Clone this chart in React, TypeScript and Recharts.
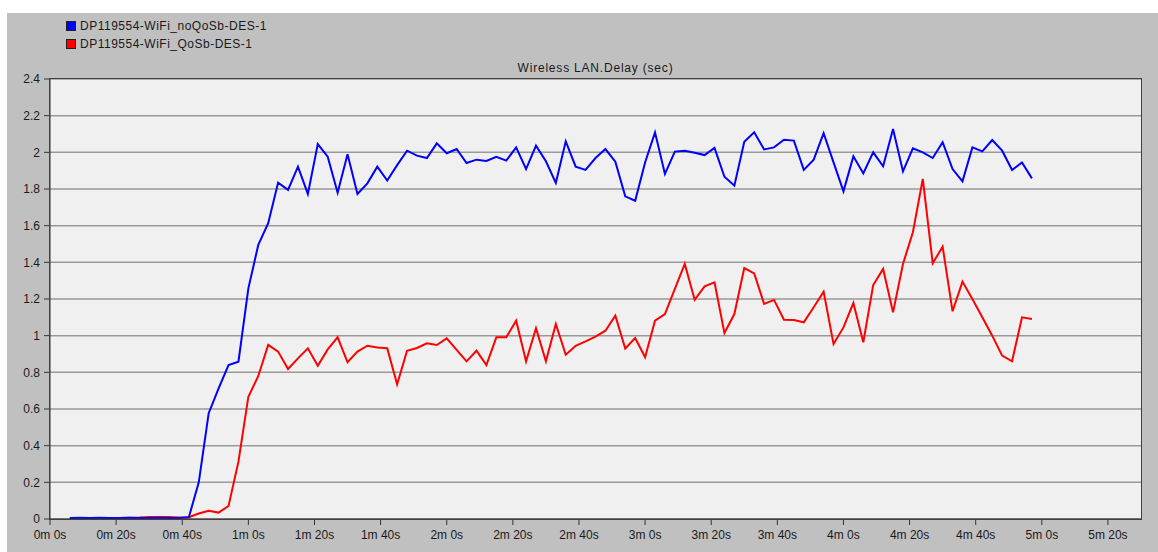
import React from 'react';
import { LineChart, Line, XAxis, YAxis, CartesianGrid } from 'recharts';

const times = [
  6, 9, 12, 15, 18, 21, 24, 27, 30, 33, 36, 39,
  42, 45, 48, 51, 54, 57, 60, 63, 66, 69, 72, 75, 78, 81, 84, 87, 90, 93, 96, 99,
  102, 105, 108, 111, 114, 117, 120, 123, 126, 129, 132, 135, 138, 141, 144, 147,
  150, 153, 156, 159, 162, 165, 168, 171, 174, 177, 180, 183, 186, 189, 192, 195,
  198, 201, 204, 207, 210, 213, 216, 219, 222, 225, 228, 231, 234, 237, 240, 243,
  246, 249, 252, 255, 258, 261, 264, 267, 270, 273, 276, 279, 282, 285, 288, 291,
  294, 297,
];

const noQoSDelay = [
  0.006, 0.007, 0.006, 0.007, 0.006, 0.006, 0.007, 0.006, 0.006, 0.007, 0.006, 0.006,
  0.01, 0.2, 0.577, 0.713, 0.84, 0.858, 1.258, 1.495, 1.613, 1.835, 1.795, 1.922,
  1.773, 2.045, 1.976, 1.78, 1.99, 1.773, 1.831, 1.922, 1.846, 1.93, 2.009, 1.982,
  1.969, 2.049, 1.995, 2.018, 1.942, 1.96, 1.953, 1.976, 1.955, 2.027, 1.909, 2.036,
  1.951, 1.833, 2.06, 1.922, 1.904, 1.969, 2.018, 1.949, 1.76, 1.736, 1.945, 2.109,
  1.882, 2.004, 2.009, 1.998, 1.985, 2.024, 1.867, 1.818, 2.058, 2.109, 2.016, 2.027,
  2.069, 2.064, 1.904, 1.96, 2.104, 1.945, 1.787, 1.978, 1.885, 2.0, 1.924, 2.127,
  1.896, 2.022, 2.0, 1.969, 2.055, 1.909, 1.842, 2.027, 2.005, 2.067, 2.009, 1.904,
  1.945, 1.858,
];

const qosDelay = [
  0.005, 0.006, 0.006, 0.005, 0.006, 0.006, 0.007, 0.008, 0.011, 0.011, 0.011, 0.008,
  0.01, 0.03, 0.045, 0.035, 0.071, 0.313, 0.667, 0.78, 0.95, 0.913, 0.818, 0.876,
  0.931, 0.836, 0.925, 0.991, 0.855, 0.913, 0.945, 0.935, 0.931, 0.735, 0.918, 0.933,
  0.958, 0.949, 0.985, 0.922, 0.86, 0.918, 0.84, 0.991, 0.991, 1.082, 0.86, 1.04,
  0.86, 1.064, 0.896, 0.945, 0.969, 0.995, 1.027, 1.109, 0.93, 0.987, 0.882, 1.082,
  1.118, 1.255, 1.391, 1.196, 1.269, 1.291, 1.015, 1.118, 1.369, 1.34, 1.173, 1.195,
  1.087, 1.085, 1.073, 1.155, 1.24, 0.955, 1.045, 1.178, 0.964, 1.276, 1.364, 1.127,
  1.391, 1.564, 1.855, 1.395, 1.485, 1.133, 1.295, 1.2, 1.1, 1.0, 0.891, 0.86,
  1.1, 1.091,
];

const xTicks = [0, 20, 40, 60, 80, 100, 120, 140, 160, 180, 200, 220, 240, 260, 280, 300, 320];
const xTickLabels = [
  '0m 0s', '0m 20s', '0m 40s', '1m 0s', '1m 20s', '1m 40s', '2m 0s', '2m 20s', '2m 40s',
  '3m 0s', '3m 20s', '3m 40s', '4m 0s', '4m 20s', '4m 40s', '5m 0s', '5m 20s',
];
const yTicks = [0, 0.2, 0.4, 0.6, 0.8, 1, 1.2, 1.4, 1.6, 1.8, 2, 2.2, 2.4];

const seriesNames = ['DP119554-WiFi_noQoSb-DES-1', 'DP119554-WiFi_QoSb-DES-1'];
const seriesColors = ['#0000ff', '#ff0000'];
const chartTitle = 'Wireless LAN.Delay (sec)';

const data = times.map((t, i) => ({ t, noQoS: noQoSDelay[i], qos: qosDelay[i] }));

const FONT = '"Liberation Sans", Arial, sans-serif';

export default function App() {
  const tickStyle = { fontSize: 12, fill: '#1a1a1a', fontFamily: FONT };
  return (
    <div style={{ position: 'absolute', left: 0, top: 0, width: 1158, height: 552, background: '#ffffff', overflow: 'hidden' }}>
      <div style={{ position: 'absolute', left: 7, top: 13, width: 1151, height: 539, background: '#c0c0c0' }} />
      <div style={{ position: 'absolute', left: 0, top: 0 }}>
        <LineChart width={1158} height={552} data={data} margin={{ top: 79, right: 17, bottom: 3, left: 8 }}>
          <CartesianGrid vertical={false} stroke="#999999" strokeWidth={1.5} fill="#f0f0f0" fillOpacity={1} />
          <XAxis
            dataKey="t"
            type="number"
            domain={[0, 330]}
            ticks={xTicks}
            tickFormatter={(v: number) => xTickLabels[xTicks.indexOf(v)] ?? ''}
            height={30}
            tick={tickStyle}
            tickMargin={5}
            axisLine={{ stroke: '#333333' }}
            tickLine={{ stroke: '#333333' }}
            interval={0}
            allowDataOverflow
          />
          <YAxis
            type="number"
            domain={[0, 2.4]}
            ticks={yTicks}
            width={42}
            tick={tickStyle}
            tickMargin={4}
            axisLine={{ stroke: '#333333' }}
            tickLine={{ stroke: '#333333' }}
            interval={0}
            allowDataOverflow
          />
          <Line type="linear" dataKey="qos" stroke={seriesColors[1]} strokeWidth={2} dot={false} isAnimationActive={false} />
          <Line type="linear" dataKey="noQoS" stroke={seriesColors[0]} strokeWidth={2} dot={false} isAnimationActive={false} />
        </LineChart>
      </div>
      <div style={{ position: 'absolute', left: 49, top: 78, width: 1093, height: 442, border: '1px solid #404040', boxSizing: 'border-box', pointerEvents: 'none' }} />
      <div style={{ position: 'absolute', left: 50, width: 1091, top: 60, textAlign: 'center', fontFamily: FONT, fontSize: 12, letterSpacing: 0.8, color: '#1a1a1a', lineHeight: '16px' }}>
        {chartTitle}
      </div>
      {seriesNames.map((name, i) => (
        <div key={name} style={{ position: 'absolute', left: 66, top: 18 + i * 18, height: 16, display: 'flex', alignItems: 'center', fontFamily: FONT, fontSize: 12, letterSpacing: 0.5, color: '#1a1a1a' }}>
          <span style={{ display: 'inline-block', width: 8, height: 8, background: seriesColors[i], border: '1px solid #202020', marginRight: 4 }} />
          <span style={{ lineHeight: '16px' }}>{name}</span>
        </div>
      ))}
    </div>
  );
}
